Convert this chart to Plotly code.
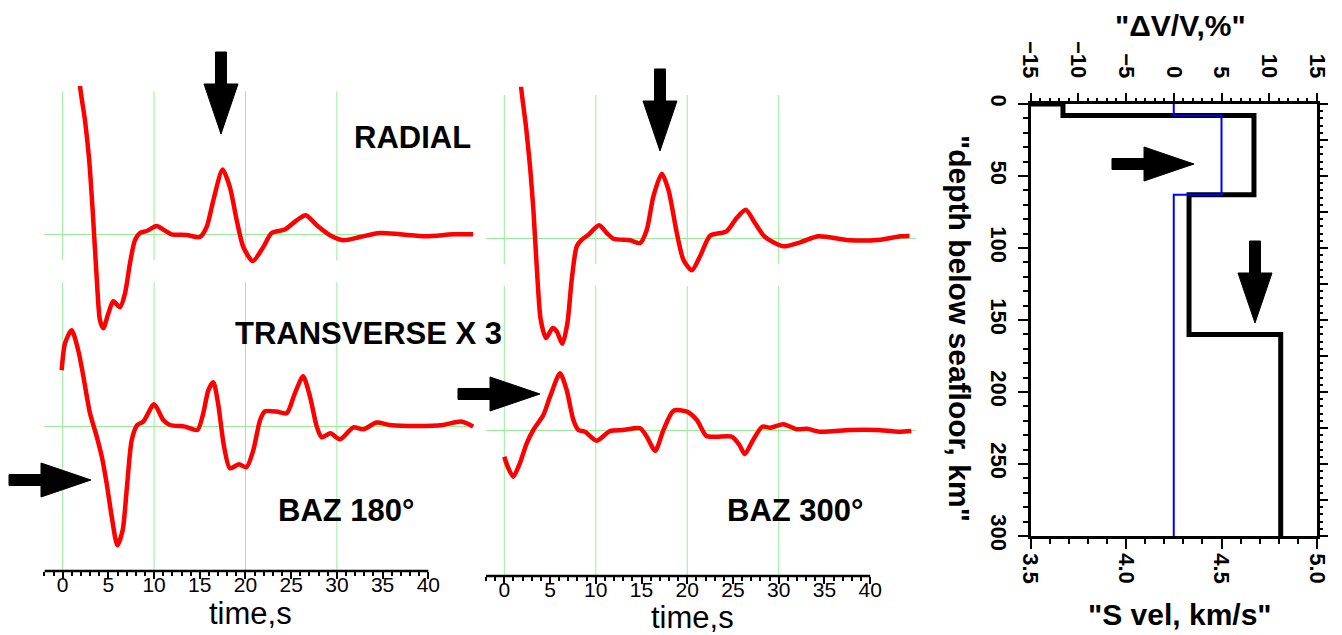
import plotly.graph_objects as go

W, H = 1342, 635
FONT = "Liberation Sans, Arial, Helvetica, sans-serif"

# ---------------- data ----------------
TIME_TICKS = [0, 5, 10, 15, 20, 25, 30, 35, 40]
TIME_MINOR = [v for v in range(-2, 41) if v % 5]
GRID_T = [0, 10, 20, 30]
RADIAL_OFFSET = 192          # radial trace is drawn above the transverse trace

# BAZ 180 radial (time s, amplitude)
R180_T = [1.7, 1.9, 2.44, 2.9, 3.28, 3.72, 4.08, 4.44, 5.0, 5.54, 6.27, 6.82, 7.36, 7.9,
          8.46, 9.19, 10.28, 11.0, 11.9, 13.57, 15.0, 15.75, 16.48, 17.5, 18.3, 19.04,
          19.76, 20.8, 21.95, 22.86, 24.3, 25.6, 26.6, 27.8, 29.25, 30.7, 32.5, 34.7,
          36.9, 39.8, 42.7, 44.9]
R180_A = [190, 148, 114, 74, 24, -43, -86, -94, -79, -67, -73, -59, -29, -6,
          1.3, 3.3, 8.3, 4.7, 0, -0.7, -2.7, 7.3, 34, 64.7, 47, 14,
          -12.7, -26.7, -12.7, 1.3, 4.7, 14, 19, 9, -1, -6, -2.7, 1.3,
          0, -2, 0, 0]
# BAZ 180 transverse x3
T180_T = [-0.11, 0.25, 0.98, 1.7, 2.26, 2.99, 3.72, 4.27, 4.81, 5.36, 5.98, 6.56, 7.0,
          7.55, 8.16, 8.82, 10.0, 11.0, 11.74, 13.38, 14.73, 15.38, 15.93, 16.48, 17.0,
          17.65, 18.3, 19.3, 20.1, 20.85, 21.6, 22.13, 23.4, 24.5, 25.4, 26.3, 27.05,
          27.8, 28.34, 29.3, 30.34, 31.8, 32.9, 34.35, 35.8, 38.7, 41.6, 43.6, 44.9]
T180_A = [56, 83, 96, 76, 50, 13, -10, -30, -57, -90, -119, -104, -64,
          -14, 1.3, 4.7, 22, 6.3, 1.3, -0.3, -3.7, 13, 36, 44, 23,
          -20, -42, -38, -41, -24, 6.3, 15, 14.7, 13, 33, 50, 30,
          -0.3, -11, -7, -13, -1, -3, 3.7, 1.3, 0.3, 1.3, 4.7, -0.3]
# BAZ 300 radial
R300_T = [1.65, 1.83, 2.37, 2.81, 3.18, 3.61, 3.98, 4.56, 5.29, 5.73, 6.35, 6.9, 7.37,
          7.92, 8.47, 9.2, 10.36, 11.2, 11.93, 13.75, 14.85, 15.58, 16.3, 17.22, 17.94,
          18.86, 19.58, 20.5, 21.4, 22.5, 24.3, 25.4, 26.4, 27.4, 28.5, 30.5, 32.35,
          34.35, 37.8, 41.1, 43.3, 44.3]
R300_A = [190, 151.6, 111.7, 71.7, 28.3, -38.3, -81.7, -100, -90, -93.3, -105.7, -85, -41.7,
          -8.3, -1.7, 3.3, 12.7, 5, -0.7, -2.3, -5, 8.3, 41.7, 64.3, 48.3,
          5, -21.7, -32.3, -18.3, 2.3, 6.7, 20, 28.3, 15, 1, -8.3, -4.3,
          1.7, -2.3, -1.7, 1.7, 2]
# BAZ 300 transverse x3
T300_T = [0, 0.44, 0.98, 1.7, 2.45, 3.17, 4.27, 5.0, 6.09, 6.82, 7.55, 8.1, 8.83, 10.1,
          11.56, 13.0, 14.85, 15.58, 16.5, 17.4, 18.5, 19.96, 21.05, 22.1, 23.2, 24.9,
          25.7, 26.3, 27.2, 28.2, 29.1, 30.5, 32.0, 33.1, 34.5, 37.8, 40.7, 43.1, 44.5]
T300_A = [-26.7, -38.3, -46.7, -33.3, -13.3, 0, 15, 33.3, 56.7, 40, 10, 0, -1.7, -10.7,
          -1, 0, 1.7, -6.7, -20.7, 0, 19.3, 18.3, 10, -6, -6.7, -6.7,
          -15, -24, -10, 3.3, 2.3, 5.7, 0.7, 1.3, -1.7, 0, 0, -1.7, -1]

# Velocity model (depth of layer tops in km, S velocity km/s)
SURFACE_VS = 3.5
MODEL_TOPS = [0, 8, 63, 160]
MODEL_VS = [3.67, 4.67, 4.33, 4.81]
REF_TOPS = [0, 8, 63]
REF_VS = [4.25, 4.5, 4.25]
MAX_DEPTH = 300
VEL_TICKS = [3.5, 4.0, 4.5, 5.0]
DVV_TICKS = [-15, -10, -5, 0, 5, 10, 15]
DEPTH_TICKS = [0, 50, 100, 150, 200, 250, 300]


def step_xy(tops, vals, bottom):
    xs, ys = [], []
    for i, v in enumerate(vals):
        lo = tops[i + 1] if i + 1 < len(tops) else bottom
        xs += [v, v]
        ys += [tops[i], lo]
    return xs, ys


def px(x):
    return x / W


def py(y):
    return 1 - y / H


fig = go.Figure()

RED = dict(color="#ff0000", width=4.5, shape="spline", smoothing=0.7)
for xa, ya, (rt, ra), (tt, ta) in [
    ("x", "y", (R180_T, R180_A), (T180_T, T180_A)),
    ("x2", "y2", (R300_T, R300_A), (T300_T, T300_A)),
]:
    fig.add_trace(go.Scatter(x=rt, y=[a + RADIAL_OFFSET for a in ra], mode="lines",
                             line=RED, xaxis=xa, yaxis=ya, showlegend=False, hoverinfo="skip"))
    fig.add_trace(go.Scatter(x=tt, y=ta, mode="lines", line=RED,
                             xaxis=xa, yaxis=ya, showlegend=False, hoverinfo="skip"))

bx, by = step_xy(MODEL_TOPS, MODEL_VS, MAX_DEPTH)
bx = [SURFACE_VS] + bx
by = [MODEL_TOPS[0]] + by
fig.add_trace(go.Scatter(x=bx, y=by, mode="lines", line=dict(color="black", width=5),
                         xaxis="x3", yaxis="y3", showlegend=False, hoverinfo="skip"))
rx, ry = step_xy(REF_TOPS, REF_VS, MAX_DEPTH)
fig.add_trace(go.Scatter(x=rx, y=ry, mode="lines", line=dict(color="#0000ff", width=2),
                         xaxis="x3", yaxis="y3", showlegend=False, hoverinfo="skip"))
# carriers for the overlay axes
fig.add_trace(go.Scatter(x=[None], y=[None], xaxis="x4", yaxis="y3", showlegend=False))
fig.add_trace(go.Scatter(x=[None], y=[None], xaxis="x3", yaxis="y4", showlegend=False))

GREEN = "#98ee98"
tickfont = dict(family=FONT, size=21, color="black")
boldtick = dict(family=FONT, size=22, color="black", weight="bold")


def time_axis(x0, x1, anchor):
    return dict(domain=[px(x0), px(x1)], range=[-2, 45], anchor=anchor, automargin=False,
                tickmode="array", tickvals=TIME_TICKS, ticks="outside", ticklen=7,
                tickwidth=2, tickcolor="black", showline=False, showgrid=False,
                zeroline=False, tickfont=tickfont, fixedrange=True, ticklabelstandoff=-12,
                minor=dict(tickmode="array", tickvals=TIME_MINOR, ticks="outside",
                           ticklen=4, tickwidth=1.5, tickcolor="black", showgrid=False))


def amp_axis(ybot, ytop, rng, anchor):
    return dict(domain=[py(ybot), py(ytop)], range=rng, anchor=anchor, automargin=False,
                tickmode="array", tickvals=[0, RADIAL_OFFSET], showgrid=True,
                gridcolor=GREEN, gridwidth=1, showticklabels=False, ticks="",
                zeroline=False, showline=False, fixedrange=True)


layout = dict(
    width=W, height=H, autosize=False,
    margin=dict(l=0, r=0, t=0, b=0, pad=0, autoexpand=False),
    paper_bgcolor="white", plot_bgcolor="rgba(0,0,0,0)",
    font=dict(family=FONT, color="black"),
    xaxis=time_axis(44.4, 474.0, "y"),
    yaxis=amp_axis(571, 86, [-144.7, 340.3], "x"),
    xaxis2=time_axis(486.0, 915.9, "y2"),
    yaxis2=amp_axis(576, 86.7, [-146, 343.3], "x2"),
    xaxis3=dict(domain=[px(1030.5), px(1317)], range=[3.5, 5.0], anchor="y3",
                automargin=False, tickmode="array", tickvals=VEL_TICKS, tickformat=".1f",
                ticks="outside", ticklen=10, tickwidth=2, tickcolor="black",
                showline=True, linewidth=2.5, linecolor="black", mirror=True,
                showgrid=False, zeroline=False, tickangle=90, tickfont=boldtick,
                minor=dict(dtick=0.1, ticks="outside", ticklen=5, tickwidth=1.5,
                           tickcolor="black", showgrid=False),
                fixedrange=True),
    xaxis4=dict(overlaying="x3", side="top", anchor="y3", range=[-15, 15],
                automargin=False, tickmode="array", tickvals=DVV_TICKS, ticks="outside",
                ticklen=10, tickwidth=2, tickcolor="black", showline=False, showgrid=False,
                zeroline=False, tickangle=90, tickfont=boldtick, ticklabelstandoff=7,
                minor=dict(dtick=1, ticks="outside", ticklen=5, tickwidth=1.5,
                           tickcolor="black", showgrid=False),
                fixedrange=True),
    yaxis3=dict(domain=[py(536), py(104)], range=[MAX_DEPTH, 0], anchor="x3",
                automargin=False, tickmode="array", tickvals=DEPTH_TICKS, ticks="outside",
                ticklen=10, tickwidth=2, tickcolor="black", showline=True, linewidth=2.5,
                linecolor="black", mirror=True, showgrid=False, zeroline=False,
                tickangle=90, tickfont=boldtick,
                minor=dict(dtick=10, ticks="outside", ticklen=5, tickwidth=1.5,
                           tickcolor="black", showgrid=False),
                fixedrange=True),
    yaxis4=dict(overlaying="y3", side="right", anchor="x3", range=[MAX_DEPTH, 0],
                automargin=False, dtick=25, ticks="outside", ticklen=10, tickwidth=2,
                tickcolor="black", showticklabels=False, showline=False, showgrid=False,
                zeroline=False,
                minor=dict(dtick=5, ticks="outside", ticklen=5, tickwidth=1.5,
                           tickcolor="black", showgrid=False),
                fixedrange=True),
)
fig.update_layout(**layout)

# vertical grid lines (two frames per column) and bottom axis lines
shapes = []
for xa, ya in [("x", "y"), ("x2", "y2")]:
    for t in GRID_T:
        shapes.append(dict(type="line", xref=xa, yref=ya, x0=t, x1=t,
                           y0=RADIAL_OFFSET - 26, y1=RADIAL_OFFSET + 143,
                           line=dict(color=GREEN, width=1), layer="below"))
        shapes.append(dict(type="line", xref=xa, yref=ya, x0=t, x1=t, y0=-150, y1=144,
                           line=dict(color=GREEN, width=1), layer="below"))
    shapes.append(dict(type="line", xref=xa, yref=ya + " domain", x0=-2, x1=40, y0=0, y1=0,
                       line=dict(color="black", width=2.5), layer="above"))


def arrow(tx, ty, direction):
    sw, sl, hw, hl = 5.5, 32, 17, 50
    if direction == "down":
        pts = [(tx, ty), (tx - hw, ty - hl), (tx - sw, ty - hl), (tx - sw, ty - hl - sl),
               (tx + sw, ty - hl - sl), (tx + sw, ty - hl), (tx + hw, ty - hl)]
    else:
        pts = [(tx, ty), (tx - hl, ty - hw), (tx - hl, ty - sw), (tx - hl - sl, ty - sw),
               (tx - hl - sl, ty + sw), (tx - hl, ty + sw), (tx - hl, ty + hw)]
    path = "M " + " L ".join(f"{px(a):.5f},{py(b):.5f}" for a, b in pts) + " Z"
    return dict(type="path", xref="paper", yref="paper", path=path,
                fillcolor="black", line=dict(color="black", width=1), layer="above")


for tx, ty, d in [(221, 134, "down"), (660, 151, "down"), (91, 480, "right"),
                  (540, 394, "right"), (1194, 164, "right"), (1255, 323, "down")]:
    shapes.append(arrow(tx, ty, d))
fig.update_layout(shapes=shapes)

ann = []


def label(text, x, y, size=31, bold=True, angle=0):
    ann.append(dict(text=text, x=px(x), y=py(y), xref="paper", yref="paper",
                    showarrow=False, xanchor="center", yanchor="middle", textangle=angle,
                    font=dict(family=FONT, size=size, color="black",
                              weight="bold" if bold else "normal")))


label("RADIAL", 412, 138)
label("TRANSVERSE X 3", 368, 333)
label("BAZ 180°", 346, 510)
label("BAZ 300°", 795, 510)
label("time,s", 250, 613, bold=False)
label("time,s", 692, 617, bold=False)
label('"ΔV/V,%"', 1180, 25, size=30)
label('"S vel, km/s"', 1180, 614, size=30)
label('"depth below seafloor, km"', 960, 328, size=30, angle=90)
fig.update_layout(annotations=ann)

POST = (
    "document.documentElement.style.margin='0';"
    "document.documentElement.style.overflow='hidden';"
    "document.body.style.margin='0';"
    "document.body.style.overflow='hidden';"
)
fig.write_html("out.html", config={"displayModeBar": False}, post_script=POST)
